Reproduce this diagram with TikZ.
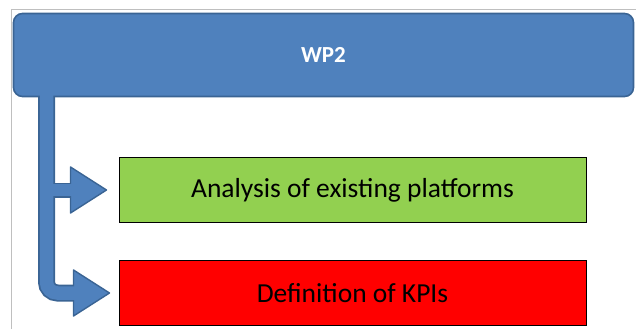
\documentclass[tikz,border=0pt]{standalone}
\usepackage{fontspec}
\setmainfont{Carlito}
\definecolor{wpblue}{HTML}{4F81BD}
\definecolor{wpedge}{HTML}{3A6494}
\definecolor{taskgreen}{HTML}{92D050}
\definecolor{taskred}{HTML}{FF0000}
\begin{document}
\begin{tikzpicture}[x=1pt,y=-1pt,
  header/.style={draw=wpedge,line width=1.6pt,fill=wpblue,rounded corners=9pt,
    minimum width=620pt,minimum height=83pt,inner sep=0pt,
    text=white,font=\bfseries\fontsize{23}{26}\selectfont},
  task/.style={draw=black,line width=1pt,minimum width=467pt,minimum height=65pt,
    inner sep=0pt,font=\fontsize{27.5}{30}\selectfont},
  headtip/.style={draw=wpedge,line width=1.4pt,fill=wpblue,line join=round}]
\useasboundingbox (0,0) rectangle (636,329);
% outer frame
\draw[black!25,line width=1pt] (11,329) -- (11,10) -- (636,10);
% work package header and its tasks
\node[header] (wp) at (323.5,55) {WP2};
\node[task,fill=taskgreen] (t1) at (352.5,190) {Analysis of existing platforms};
\node[task,fill=taskred] (t2) at (352.5,293) {Definition of KPIs};
% branching block arrow from the header to each task
\coordinate (top) at (46.5,96);
\coordinate (b1) at (46.5,190);
\coordinate (h1) at ([xshift=-12pt]t1.west);
\coordinate (h2) at ([xshift=-9pt]t2.west);
\coordinate (bend) at (46.5,293);
% outline layer
\draw[wpedge,line width=17pt,rounded corners=11pt] (top) -- (bend) -- ([xshift=28pt]bend);
\draw[wpedge,line width=15pt] (b1) -- ([xshift=30pt]b1);
\fill[headtip] ([xshift=-36pt,yshift=-23pt]h1) -- (h1) -- ([xshift=-36pt,yshift=23pt]h1) -- cycle;
\fill[headtip] ([xshift=-36pt,yshift=-23pt]h2) -- (h2) -- ([xshift=-36pt,yshift=23pt]h2) -- cycle;
% fill layer
\draw[wpblue,line width=13.5pt,rounded corners=11pt] ([yshift=2pt]top) -- (bend) -- ([xshift=32pt]bend);
\draw[wpblue,line width=11.5pt] (b1) -- ([xshift=32pt]b1);
\end{tikzpicture}
\end{document}
